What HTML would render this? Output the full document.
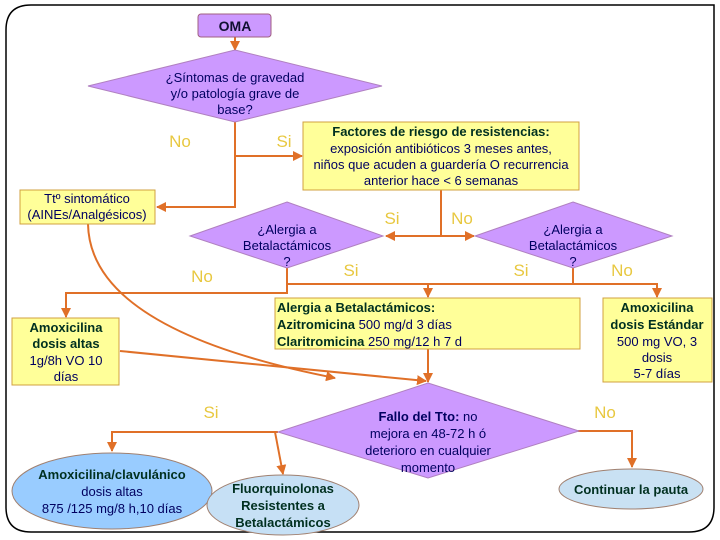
<!DOCTYPE html>
<html><head><meta charset="utf-8"><style>
body{margin:0;background:#fff}
svg{display:block;font-family:"Liberation Sans",sans-serif}
.t{font-size:13px;fill:#000060;text-anchor:middle}
.b{font-size:13px;font-weight:bold;fill:#003020;text-anchor:middle}
.y{font-size:17px;fill:#E8C840;text-anchor:middle}
.l{stroke:#E07028;stroke-width:2;fill:none}
</style></head><body>
<svg width="720" height="540" viewBox="0 0 720 540">
<defs><marker id="a" viewBox="0 0 10 10" refX="9" refY="5" markerWidth="5" markerHeight="5" orient="auto"><path d="M0,0L10,5L0,10z" fill="#E07028"/></marker></defs>
<path d="M31,5H714V507Q714,532 689,532H31Q6,532 6,507V30Q6,5 31,5Z" fill="none" stroke="#000" stroke-width="1.5"/>
<!-- connectors -->
<path class="l" d="M235,37V50" marker-end="url(#a)"/>
<path class="l" d="M235,122V207H157" marker-end="url(#a)"/>
<path class="l" d="M235,156H302" marker-end="url(#a)"/>
<path class="l" d="M441,190V236H386" marker-end="url(#a)"/>
<path class="l" d="M441,236H474" marker-end="url(#a)"/>
<path class="l" d="M287,268V293H66V317" marker-end="url(#a)"/>
<path class="l" d="M573,268V284H287"/>
<path class="l" d="M428,284V297" marker-end="url(#a)"/>
<path class="l" d="M573,284H657V297" marker-end="url(#a)"/>
<path class="l" d="M88,224Q90,330 335,378" marker-end="url(#a)"/>
<path class="l" d="M120,351L426,381" marker-end="url(#a)"/>
<path class="l" d="M428,349V382" marker-end="url(#a)"/>
<path class="l" d="M278,432H112V451" marker-end="url(#a)"/>
<path class="l" d="M275,432L283,474" marker-end="url(#a)"/>
<path class="l" d="M578,431H632V467" marker-end="url(#a)"/>
<!-- shapes -->
<rect x="198" y="14" width="73" height="23" rx="3" fill="#CC99FF" stroke="#A06080"/>
<text x="235" y="31" class="b" style="font-size:14px;fill:#101030">OMA</text>
<path d="M235,50L382,86L235,122L88,86Z" fill="#CC99FF" stroke="#B080C0"/>
<text class="t" x="235" y="82">¿Síntomas de gravedad</text>
<text class="t" x="235" y="98">y/o patología grave de</text>
<text class="t" x="235" y="114">base?</text>
<rect x="20" y="190" width="135" height="34" fill="#FFFF99" stroke="#D0A040"/>
<text class="t" x="87" y="203">Ttº sintomático</text>
<text class="t" x="87" y="219">(AINEs/Analgésicos)</text>
<rect x="303" y="122" width="276" height="68" fill="#FFFF99" stroke="#D0A040"/>
<text class="b" x="441" y="136">Factores de riesgo de resistencias:</text>
<text class="t" x="441" y="153">exposición antibióticos 3 meses antes,</text>
<text class="t" x="441" y="169">niños que acuden a guardería O recurrencia</text>
<text class="t" x="441" y="185">anterior hace &lt; 6 semanas</text>
<path d="M287,202L383,236L287,268L190,236Z" fill="#CC99FF" stroke="#B080C0"/>
<text class="t" x="287" y="234">¿Alergia a</text>
<text class="t" x="287" y="250">Betalactámicos</text>
<text class="t" x="287" y="266">?</text>
<path d="M573,202L672,236L573,268L475,236Z" fill="#CC99FF" stroke="#B080C0"/>
<text class="t" x="573" y="234">¿Alergia a</text>
<text class="t" x="573" y="250">Betalactámicos</text>
<text class="t" x="573" y="266">?</text>
<rect x="275" y="298" width="305" height="51" fill="#FFFF99" stroke="#D0A040"/>
<text class="b" x="277" y="312" style="text-anchor:start">Alergia a Betalactámicos:</text>
<text class="t" x="277" y="329" style="text-anchor:start"><tspan class="b" style="text-anchor:start">Azitromicina</tspan> 500 mg/d 3 días</text>
<text class="t" x="277" y="346" style="text-anchor:start"><tspan class="b" style="text-anchor:start">Claritromicina</tspan> 250 mg/12 h 7 d</text>
<rect x="603" y="298" width="109" height="84" fill="#FFFF99" stroke="#D0A040"/>
<text class="b" x="657" y="312">Amoxicilina</text>
<text class="b" x="657" y="329">dosis Estándar</text>
<text class="t" x="657" y="346">500  mg VO, 3</text>
<text class="t" x="657" y="362">dosis</text>
<text class="t" x="657" y="378">5-7  días</text>
<rect x="12" y="318" width="107" height="67" fill="#FFFF99" stroke="#D0A040"/>
<text class="b" x="66" y="332">Amoxicilina</text>
<text class="b" x="66" y="348">dosis altas</text>
<text class="t" x="66" y="365">1g/8h  VO 10</text>
<text class="t" x="66" y="381">días</text>
<path d="M428,383L579,431L428,478L278,432Z" fill="#CC99FF" stroke="#B080C0"/>
<text class="t" x="428" y="421"><tspan style="font-weight:bold">Fallo del Tto:</tspan> no</text>
<text class="t" x="428" y="438">mejora en 48-72 h ó</text>
<text class="t" x="428" y="455">deterioro en cualquier</text>
<text class="t" x="428" y="472">momento</text>
<ellipse cx="112" cy="491" rx="100" ry="38" fill="#99CCFF" stroke="#A08070"/>
<text class="b" x="112" y="479">Amoxicilina/clavulánico</text>
<text class="t" x="112" y="496">dosis altas</text>
<text class="t" x="112" y="513">875 /125 mg/8 h,10 días</text>
<ellipse cx="283" cy="505" rx="76" ry="30" fill="#C6E0F5" stroke="#A08070"/>
<text class="b" x="283" y="493">Fluorquinolonas</text>
<text class="b" x="283" y="510">Resistentes a</text>
<text class="b" x="283" y="527">Betalactámicos</text>
<ellipse cx="631" cy="489" rx="72" ry="20" fill="#C9E1F3" stroke="#A08070"/>
<text class="b" x="631" y="494">Continuar la pauta</text>
<!-- labels -->
<text class="y" x="180" y="147">No</text>
<text class="y" x="284" y="147">Si</text>
<text class="y" x="392" y="224">Si</text>
<text class="y" x="462" y="224">No</text>
<text class="y" x="202" y="282">No</text>
<text class="y" x="351" y="276">Si</text>
<text class="y" x="521" y="276">Si</text>
<text class="y" x="622" y="276">No</text>
<text class="y" x="211" y="418">Si</text>
<text class="y" x="605" y="418">No</text>
</svg>
</body></html>
